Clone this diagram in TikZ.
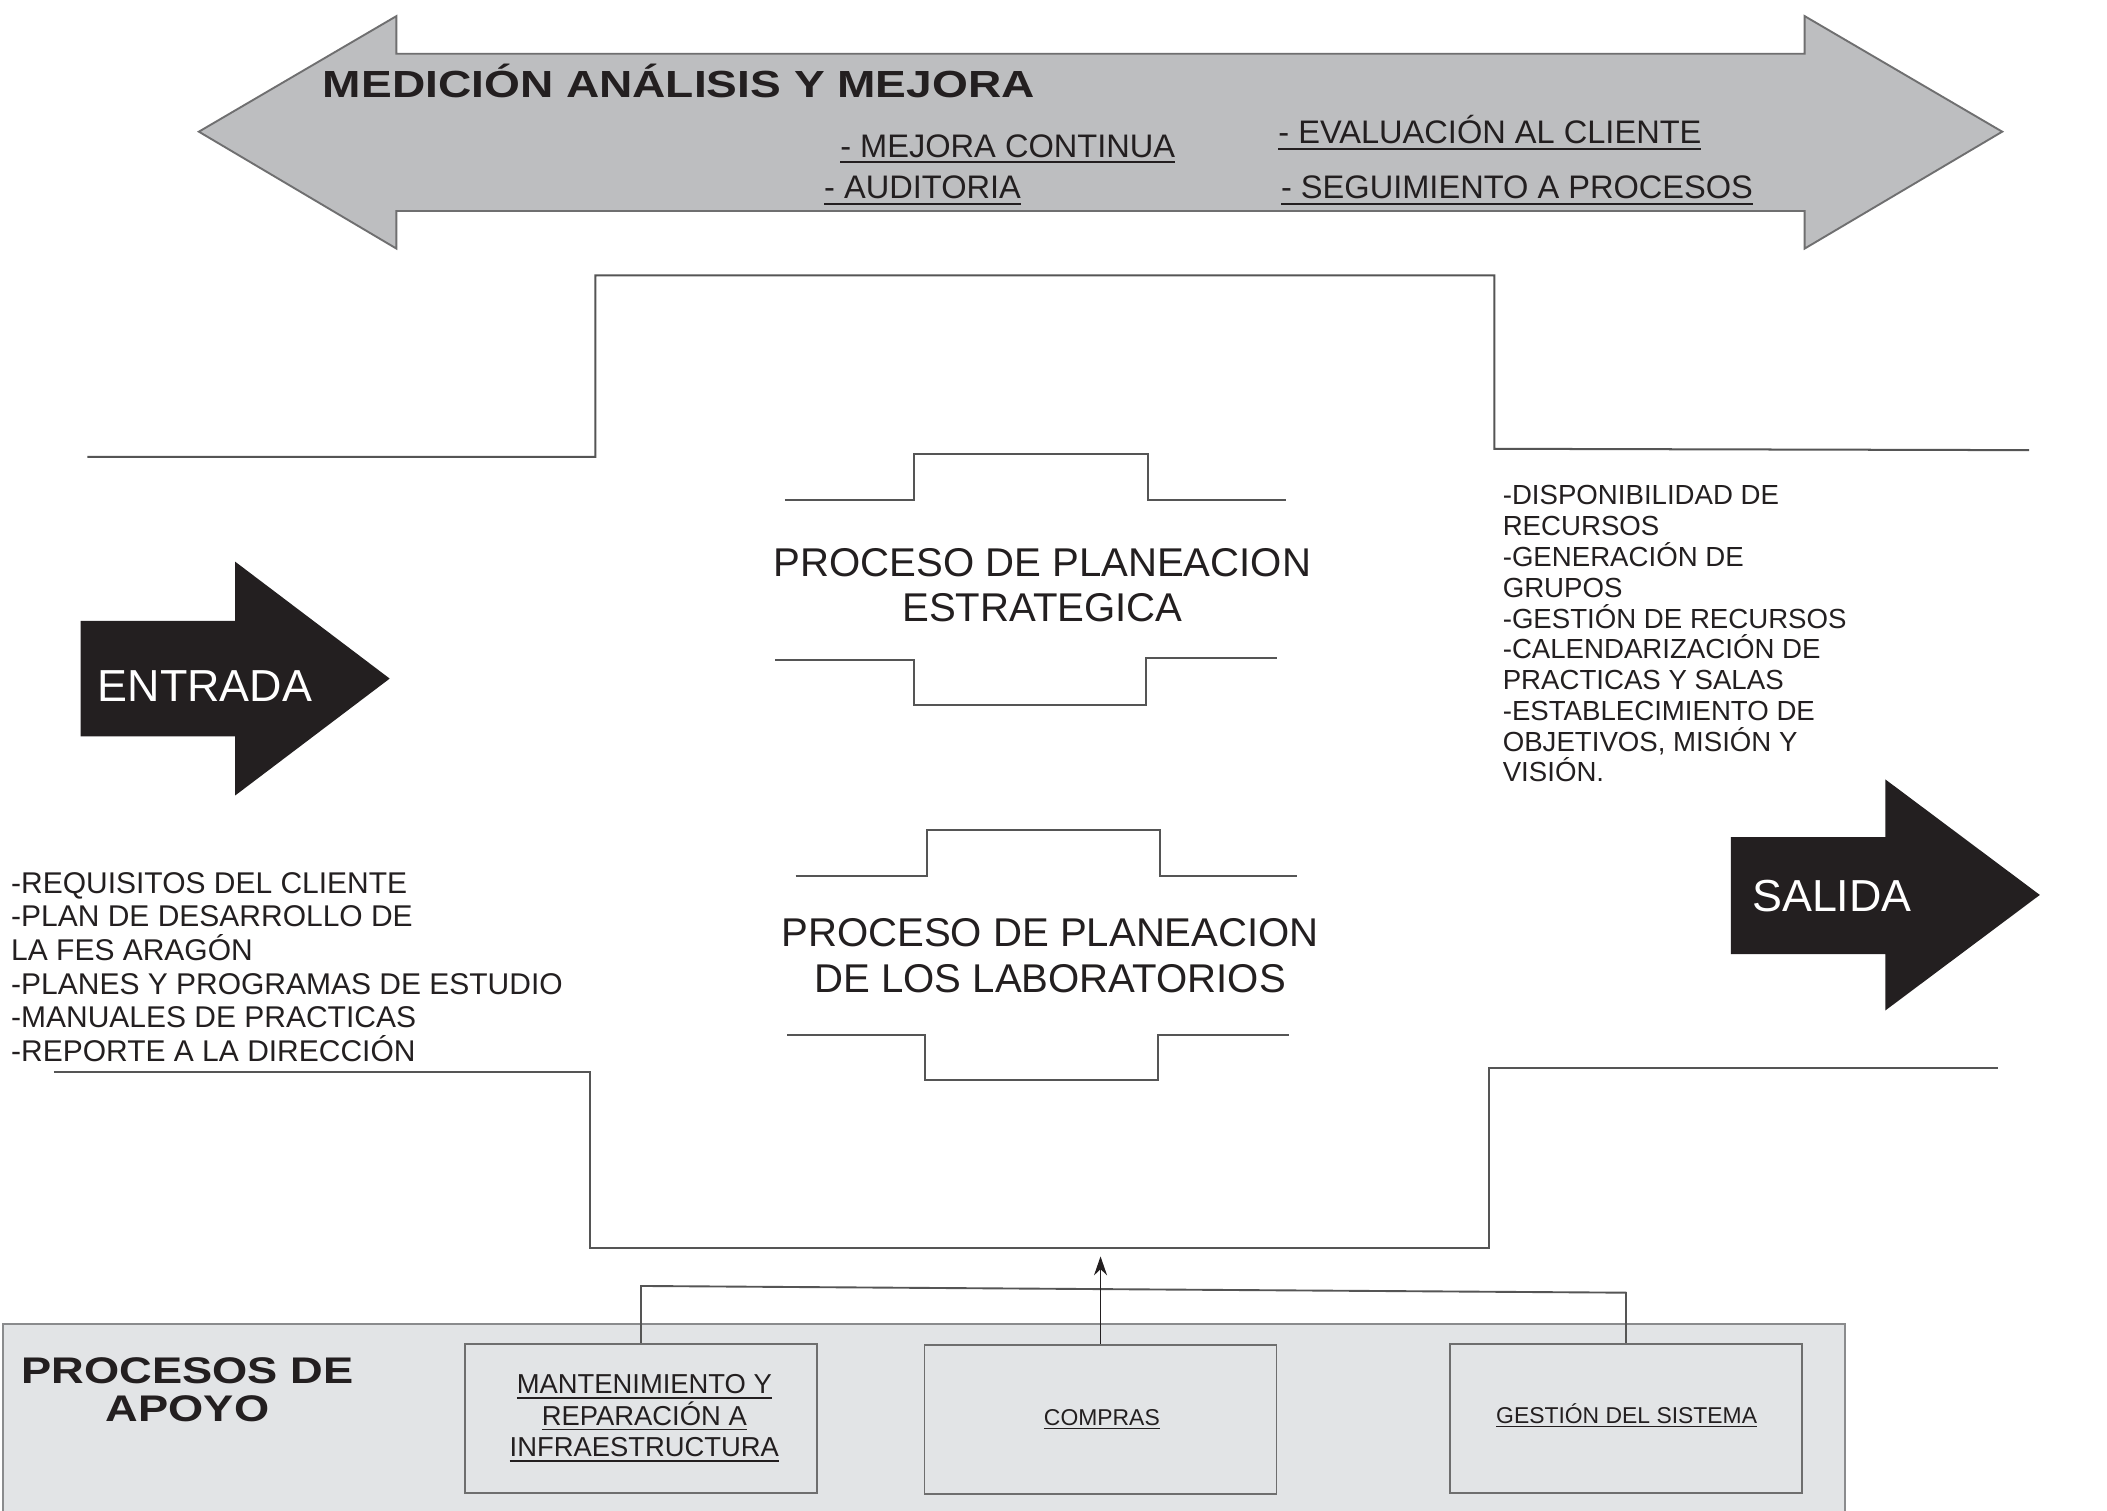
\documentclass[tikz,border=0pt]{standalone}
\usepackage{fontspec}
\setmainfont{Liberation Sans}
\newfontfamily\headfont[FakeStretch=1.22]{Liberation Sans}
\usetikzlibrary{arrows.meta}

\definecolor{ink}{HTML}{231F20}
\definecolor{bandfill}{HTML}{BDBEC0}
\definecolor{bandline}{HTML}{6F6F70}
\definecolor{framegray}{HTML}{555555}
\definecolor{supportfill}{HTML}{E2E4E6}
\definecolor{supportline}{HTML}{8A8B8D}

% underlined label: rule sits just below the baseline, scaled with the font
\newcommand\ulbox[1]{\vtop{\hbox{#1}\kern0.12em\hrule height 0.06em}}

\tikzset{
  txt/.style={inner sep=0pt, text=ink, anchor=base west},
  ctxt/.style={inner sep=0pt, text=ink, anchor=base},
  frame/.style={draw=framegray, line width=0.85pt},
  supbox/.style={draw=framegray!85, line width=0.8pt, fill=supportfill,
    minimum width=5.24cm, minimum height=2.22cm, inner sep=0pt},
  conn/.style={draw=framegray, line width=0.8pt},
  itemfont/.style={font=\fontsize{13.8}{16}\selectfont},
  procfont/.style={font=\fontsize{17}{20}\selectfont},
  ioarrowfont/.style={font=\fontsize{19}{22}\selectfont},
  headingfont/.style={font=\headfont\bfseries\fontsize{#1}{18}\selectfont},
}

\begin{document}
\begin{tikzpicture}[x=0.02cm, y=-0.02cm]
\useasboundingbox (0,0) rectangle (1568,1124);
\fill[white] (0,0) rectangle (1568,1124);

% measurement / improvement double arrow
\draw[fill=bandfill, draw=bandline, line width=0.8pt]
  (148,98) -- (295,12) -- (295,40) -- (1343,40) -- (1343,12) -- (1490,98)
  -- (1343,185) -- (1343,157) -- (295,157) -- (295,185) -- cycle;
\node[txt, headingfont=16] (title) at (240,72.5) {MEDICIÓN ANÁLISIS Y MEJORA};
\node[txt, itemfont] (mejora) at (625,117) {\ulbox{- MEJORA CONTINUA}};
\node[txt, itemfont] (audit) at (613,148) {\ulbox{- AUDITORIA}};
\node[txt, itemfont] (evalc) at (951,107) {\ulbox{- EVALUACIÓN AL CLIENTE}};
\node[txt, itemfont] (segui) at (953,148) {\ulbox{- SEGUIMIENTO A PROCESOS}};

% process frame
\draw[frame] (65,340) -- (443,340) -- (443,205) -- (1112,205) -- (1112,334) -- (1510,335);
\draw[frame] (40,798) -- (439,798) -- (439,929) -- (1108,929) -- (1108,795) -- (1487,795);

% strategic planning bracket
\draw[frame] (584,372) -- (680,372) -- (680,338) -- (854,338) -- (854,372) -- (957,372);
\draw[frame] (577,491) -- (680,491) -- (680,525) -- (853,525) -- (853,490) -- (950,490);
\node[ctxt, procfont] (pe1) at (775.7,429.2) {PROCESO DE PLANEACION};
\node[ctxt, procfont] (pe2) at (775.7,462.7) {ESTRATEGICA};

% laboratory planning bracket
\draw[frame] (592,652) -- (690,652) -- (690,618) -- (863,618) -- (863,652) -- (965,652);
\draw[frame] (586,770) -- (688,770) -- (688,804) -- (862,804) -- (862,770) -- (959,770);
\node[ctxt, procfont] (pl1) at (781.5,704.5) {PROCESO DE PLANEACION};
\node[ctxt, procfont] (pl2) at (781.5,738.8) {DE LOS LABORATORIOS};

% input and output arrows
\fill[ink] (60,462) -- (175,462) -- (175,418) -- (290,505) -- (175,592) -- (175,548) -- (60,548) -- cycle;
\node[txt, ioarrowfont, text=white] (entrada) at (72.5,521.7) {ENTRADA};
\fill[ink] (1288,623) -- (1403,623) -- (1403,580) -- (1518,666) -- (1403,752) -- (1403,710) -- (1288,710) -- cycle;
\node[txt, ioarrowfont, text=white] (salida) at (1303.6,678.5) {SALIDA};

% inputs
\foreach \entry [count=\i from 0] in {{-REQUISITOS DEL CLIENTE},{-PLAN DE DESARROLLO DE},{LA FES ARAGÓN},{-PLANES Y PROGRAMAS DE ESTUDIO},{-MANUALES DE PRACTICAS},{-REPORTE A LA DIRECCIÓN}}
  \node[txt, font=\fontsize{12.7}{14}\selectfont] (in\i) at (8,{664.8+25.04*\i}) {\entry};

% outputs
\foreach \entry [count=\i from 0] in {{-DISPONIBILIDAD DE},{RECURSOS},{-GENERACIÓN DE},{GRUPOS},{-GESTIÓN DE RECURSOS},{-CALENDARIZACIÓN DE},{PRACTICAS Y SALAS},{-ESTABLECIMIENTO DE},{OBJETIVOS, MISIÓN Y},{VISIÓN.}}
  \node[txt, font=\fontsize{11.7}{13}\selectfont] (out\i) at (1118,{375.8+22.9*\i}) {\entry};

% support processes
\draw[draw=supportline, line width=0.8pt, fill=supportfill] (2,1140) -- (2,985) -- (1373,985) -- (1373,1140);
\node[ctxt, headingfont=15.7] (apoyo1) at (139.6,1029.5) {PROCESOS DE};
\node[ctxt, headingfont=15.7] (apoyo2) at (139.6,1058) {APOYO};

\node[supbox] (mant) at (477,1055.5) {};
\node[supbox] (comp) at (819,1056.5) {};
\node[supbox] (gest) at (1210,1055.5) {};

\node[ctxt, font=\fontsize{11.6}{13}\selectfont] (m1) at (479.5,1037) {\ulbox{MANTENIMIENTO Y}};
\node[ctxt, font=\fontsize{11.6}{13}\selectfont] (m2) at (479.5,1060.5) {\ulbox{REPARACIÓN A}};
\node[ctxt, font=\fontsize{11.6}{13}\selectfont] (m3) at (479.5,1084) {\ulbox{INFRAESTRUCTURA}};
\node[ctxt, font=\fontsize{9.7}{11}\selectfont] (c1) at (820,1060.5) {\ulbox{COMPRAS}};
\node[ctxt, font=\fontsize{9.7}{11}\selectfont] (g1) at (1210.5,1059) {\ulbox{GESTIÓN DEL SISTEMA}};

% links from support processes to the main process
\coordinate (j1) at (477,957);
\coordinate (j2) at (1210,962);
\coordinate (up) at (819,935);
\draw[conn] (mant.north) -- (j1) -- (j2) -- (gest.north);
\draw[conn, draw=ink, -{Stealth[length=8pt,width=5.5pt]}] (comp.north) -- (up);
\end{tikzpicture}
\end{document}
